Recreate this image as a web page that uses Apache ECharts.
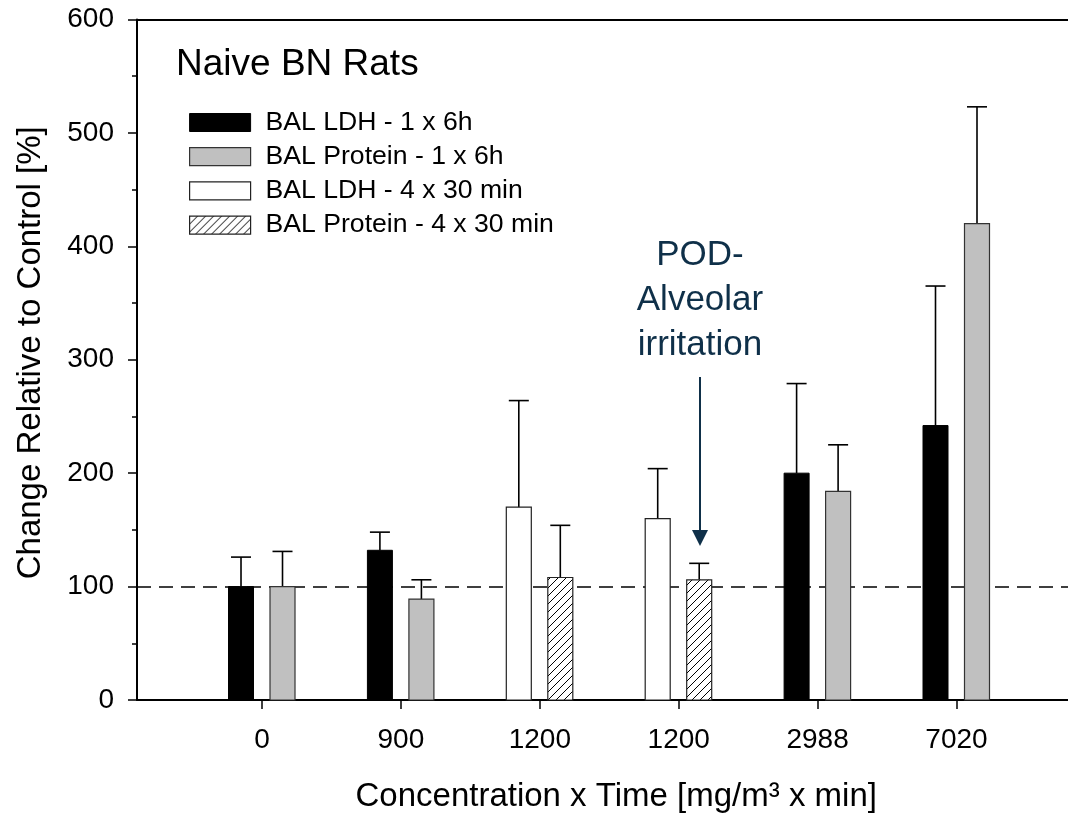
<!DOCTYPE html>
<html>
<head>
<meta charset="utf-8">
<script src="https://cdn.jsdelivr.net/npm/echarts@6/dist/echarts.min.js"></script>
<style>
html,body{margin:0;padding:0;background:#fff;overflow:hidden;}
#chart{width:1068px;height:813px;}
</style>
</head>
<body>
<div id="chart"></div>
<script>
// ---- data ----
const categories = ['0', '900', '1200', '1200', '2988', '7020'];
const ldh6hMean  = [100, 132, null, null, 200, 242];
const ldh6hSD    = [26, 16, null, null, 79, 123];
const prot6hMean = [100, 89, null, null, 184, 420];
const prot6hSD   = [31, 17, null, null, 41, 103];
const ldh30Mean  = [null, null, 170, 160, null, null];
const ldh30SD    = [null, null, 94, 44, null, null];
const prot30Mean = [null, null, 108, 106, null, null];
const prot30SD   = [null, null, 46, 14.5, null, null];
const controlLevel = 100;
const yTicks = [0, 100, 200, 300, 400, 500, 600];
const seriesNames = ['BAL LDH - 1 x 6h', 'BAL Protein - 1 x 6h', 'BAL LDH - 4 x 30 min', 'BAL Protein - 4 x 30 min'];

const FONT = '"Liberation Sans", Arial, sans-serif';

function toData(means, sds) {
  const out = [];
  means.forEach((m, i) => { if (m != null) out.push([i + 1, m, sds[i]]); });
  return out;
}

// hatch pattern
function hatch() {
  const c = document.createElement('canvas');
  c.width = 8; c.height = 8;
  const g = c.getContext('2d');
  g.fillStyle = '#fff'; g.fillRect(0, 0, 8, 8);
  g.strokeStyle = '#000'; g.lineWidth = 1;
  g.beginPath();
  g.moveTo(-1, 9); g.lineTo(9, -1);
  g.moveTo(-1, 1); g.lineTo(1, -1);
  g.moveTo(7, 9); g.lineTo(9, 7);
  g.stroke();
  return c;
}
const hatchFill = { image: hatch(), repeat: 'repeat' };

const styles = [
  { color: '#000000', borderColor: '#000000', borderWidth: 1 },
  { color: '#c0c0c0', borderColor: '#333333', borderWidth: 1.2 },
  { color: '#ffffff', borderColor: '#222222', borderWidth: 1.2 },
  { color: hatchFill, borderColor: '#222222', borderWidth: 1.2 }
];
const offsets = [-21, 20.5, -21, 20.5];
const BAR_W = 25, CAP = 10;

function makeSeries(idx, data) {
  return {
    name: seriesNames[idx],
    type: 'custom',
    itemStyle: styles[idx],
    data: data,
    z: 3,
    renderItem: function (params, api) {
      const x = api.value(0), v = api.value(1), sd = api.value(2);
      const base = api.coord([x, 0]);
      const top = api.coord([x, v]);
      const err = api.coord([x, v + sd]);
      const xc = base[0] + offsets[idx];
      const st = styles[idx];
      return {
        type: 'group',
        children: [
          { type: 'line', shape: { x1: xc, y1: top[1], x2: xc, y2: err[1] }, style: { stroke: '#000', lineWidth: 1.6 } },
          { type: 'line', shape: { x1: xc - CAP, y1: err[1], x2: xc + CAP, y2: err[1] }, style: { stroke: '#000', lineWidth: 1.6 } },
          { type: 'rect', shape: { x: xc - BAR_W / 2, y: top[1], width: BAR_W, height: base[1] - top[1] },
            style: { fill: st.color, stroke: st.borderColor, lineWidth: st.borderWidth } }
        ]
      };
    }
  };
}

const chart = echarts.init(document.getElementById('chart'), null, { renderer: 'canvas' });
const tickVals = categories.map((c, i) => i + 1);

chart.setOption({
  backgroundColor: '#fff',
  animation: false,
  textStyle: { fontFamily: FONT },
  title: {
    text: 'Naive BN Rats', left: 171, top: 41,
    textStyle: { fontFamily: FONT, fontSize: 37, fontWeight: 'normal', color: '#000' }
  },
  legend: {
    orient: 'vertical', left: 184, top: 104,
    itemWidth: 61, itemHeight: 18, itemGap: 7.2,
    icon: 'rect',
    textStyle: { fontFamily: FONT, fontSize: 26.6, color: '#000', padding: [0, 0, 0, 10] },
    data: seriesNames.map((n, i) => ({ name: n, itemStyle: styles[i] }))
  },
  grid: { left: 137, top: 19.5, bottom: 113, width: 958.4, outerBoundsMode: 'none', containLabel: false },
  xAxis: [{
    type: 'value', min: 0.1, max: 7, position: 'bottom',
    axisLine: { show: true, onZero: false, lineStyle: { color: '#000', width: 2 } },
    axisTick: { show: true, customValues: tickVals, length: 9, lineStyle: { color: '#000', width: 1.5 } },
    axisLabel: { customValues: tickVals, formatter: v => categories[Math.round(v) - 1], fontSize: 28, color: '#000', margin: 26, fontFamily: FONT },
    splitLine: { show: false },
    name: 'Concentration x Time [mg/m³ x min]', nameLocation: 'middle', nameGap: 80,
    nameTextStyle: { fontSize: 33, color: '#000', fontFamily: FONT }
  }, {
    type: 'value', min: 0.1, max: 7, position: 'top',
    axisLine: { show: true, onZero: false, lineStyle: { color: '#000', width: 2 } },
    axisTick: { show: false }, axisLabel: { show: false }, splitLine: { show: false }
  }],
  yAxis: {
    type: 'value', min: yTicks[0], max: yTicks[yTicks.length - 1], interval: 100,
    axisLine: { show: true, lineStyle: { color: '#000', width: 2 } },
    axisTick: { show: true, length: 9, lineStyle: { color: '#000', width: 1.5 } },
    minorTick: { show: true, splitNumber: 2, length: 5, lineStyle: { color: '#000', width: 1.5 } },
    axisLabel: { fontSize: 28, color: '#000', margin: 23, fontFamily: FONT },
    splitLine: { show: false },
    name: 'Change Relative to Control [%]', nameLocation: 'middle', nameGap: 90,
    nameTextStyle: { fontSize: 33, color: '#000', fontFamily: FONT, padding: [0, 0, 0, 14] }
  },
  series: [
    makeSeries(0, toData(ldh6hMean, ldh6hSD)),
    makeSeries(1, toData(prot6hMean, prot6hSD)),
    makeSeries(2, toData(ldh30Mean, ldh30SD)),
    Object.assign(makeSeries(3, toData(prot30Mean, prot30SD)), {
      markLine: {
        silent: true, symbol: 'none', z: 2,
        label: { show: false },
        lineStyle: { color: '#000', type: [14, 8], width: 1.6 },
        data: [{ yAxis: controlLevel }]
      }
    })
  ],
  graphic: [
    {
      type: 'text',
      style: {
        text: 'POD-\nAlveolar\nirritation', x: 700, y: 233, textAlign: 'center',
        font: '35px ' + FONT, fill: '#0f3049', lineHeight: 45
      }
    },
    { type: 'line', shape: { x1: 700, y1: 377, x2: 700, y2: 532 }, style: { stroke: '#0f3049', lineWidth: 2 } },
    { type: 'polygon', shape: { points: [[692, 530], [708, 530], [700, 546]] }, style: { fill: '#0f3049' } }
  ]
});
</script>
</body>
</html>
